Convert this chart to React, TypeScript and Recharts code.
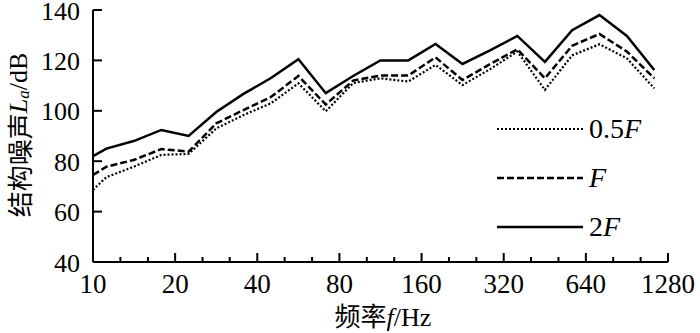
import { LineChart, Line, XAxis, YAxis, Legend } from "recharts";

// 1/3-octave positions (Hz); first point sits on the 10 Hz axis edge
const freqs = [10, 11.2, 14.1, 17.8, 22.4, 28.3, 35.6, 44.9, 56.6, 71.3, 89.8, 113, 143, 180, 226, 285, 359, 453, 570, 718, 905, 1140];
const halfF = [68.6, 73.7, 77.8, 82.5, 82.9, 93, 98.3, 103, 110.9, 99.8, 111, 112.9, 111.6, 118.2, 110.2, 116.5, 123.5, 108.3, 122, 126.4, 120.8, 108.9];
const oneF = [74.5, 77.8, 80.5, 84.8, 83.8, 95, 100.3, 105.5, 113.8, 102.5, 112, 114, 114, 121.2, 112.2, 118.5, 124.4, 112.9, 125.8, 130.5, 123.5, 112.9];
const twoF = [82, 85, 88, 92.4, 90, 99.5, 106.7, 113, 120.5, 107, 113.8, 120, 120, 126.5, 118.6, 124, 129.7, 119.4, 132, 138, 129.7, 116.2];

const xTicks = [10, 12.6, 15.9, 20, 25.2, 31.7, 40, 50.4, 63.5, 80, 100.8, 127, 160, 201.6, 254, 320, 403, 508, 640, 806, 1016, 1280];
const xLabels = [10, 20, 40, 80, 160, 320, 640, 1280];
const yTicks = [40, 60, 80, 100, 120, 140];
const seriesNames = ["0.5F", "F", "2F"];

const data = freqs.map((f, i) => ({ f, half: halfF[i], one: oneF[i], two: twoF[i] }));

const SERIF = '"Liberation Serif", "Times New Roman", serif';
const CJK = '"Noto Sans CJK SC", sans-serif';

const lineStyles = [
  { key: "half", dash: "2 2", width: 2.2 },
  { key: "one", dash: "7 3", width: 2.5 },
  { key: "two", dash: undefined, width: 2.5 },
];

function XTick(props: any) {
  const { x, y, payload } = props;
  const major = xLabels.includes(payload.value);
  return (
    <g>
      <line x1={x} x2={x} y1={y} y2={y - (major ? 9 : 5)} stroke="#000" strokeWidth={2} />
      {major && (
        <text x={x} y={y + 31} textAnchor="middle" fontFamily={SERIF} fontSize={27} fill="#000">
          {payload.value}
        </text>
      )}
    </g>
  );
}

function YTick(props: any) {
  const { x, y, payload } = props;
  return (
    <g>
      <line x1={x} x2={x + 9} y1={y} y2={y} stroke="#000" strokeWidth={2} />
      <text x={x - 13} y={y + 9.5} textAnchor="end" fontFamily={SERIF} fontSize={26} fill="#000">
        {payload.value}
      </text>
    </g>
  );
}

function XLabel() {
  return (
    <text x={383} y={326} textAnchor="middle" fontSize={26} fill="#000" fontFamily={SERIF}>
      <tspan fontFamily={CJK}>频率</tspan>
      <tspan fontStyle="italic">f</tspan>
      <tspan>/Hz</tspan>
    </text>
  );
}

function YLabel() {
  return (
    <text
      x={18}
      y={135}
      transform="rotate(-90 18 135)"
      textAnchor="middle"
      dominantBaseline="central"
      fontSize={26}
      fill="#000"
      fontFamily={SERIF}
    >
      <tspan fontFamily={CJK}>结构噪声</tspan>
      <tspan fontStyle="italic">L</tspan>
      <tspan fontStyle="italic" fontSize={17} dy={5}>a</tspan>
      <tspan dy={-5}>/dB</tspan>
    </text>
  );
}

function LegendBox() {
  return (
    <div style={{ display: "flex", flexDirection: "column" }}>
      {seriesNames.map((name, i) => (
        <div key={name} style={{ display: "flex", alignItems: "center", height: 49 }}>
          <svg width={86} height={6} style={{ display: "block" }}>
            <line
              x1={0}
              x2={86}
              y1={3}
              y2={3}
              stroke="#000"
              strokeWidth={lineStyles[i].width}
              strokeDasharray={lineStyles[i].dash}
            />
          </svg>
          <span style={{ fontFamily: SERIF, fontSize: 28, marginLeft: 6, lineHeight: 1 }}>
            {name.slice(0, -1)}
            <i>{name.slice(-1)}</i>
          </span>
        </div>
      ))}
    </div>
  );
}

export default function App() {
  return (
    <div style={{ width: 700, height: 333, background: "#fff" }}>
      <style>{"body{margin:0}"}</style>
      <LineChart width={700} height={333} data={data} margin={{ top: 10, right: 32, bottom: 0, left: 0 }}>
        <XAxis
          dataKey="f"
          type="number"
          scale="log"
          domain={[10, 1280]}
          ticks={xTicks}
          interval={0}
          height={71}
          tickSize={0}
          tickMargin={0}
          tickLine={false}
          tick={<XTick />}
          axisLine={{ stroke: "#000", strokeWidth: 2 }}
          label={<XLabel />}
        />
        <YAxis
          type="number"
          domain={[40, 140]}
          ticks={yTicks}
          interval={0}
          width={93}
          tickSize={0}
          tickMargin={0}
          tickLine={false}
          tick={<YTick />}
          axisLine={{ stroke: "#000", strokeWidth: 2 }}
          label={<YLabel />}
        />
        <Legend
          layout="vertical"
          align="center"
          verticalAlign="middle"
          content={<LegendBox />}
          wrapperStyle={{ left: 497, top: 104, width: 200 }}
        />
        {lineStyles.map((s, i) => (
          <Line
            key={s.key}
            dataKey={s.key}
            name={seriesNames[i]}
            type="linear"
            stroke="#000"
            strokeWidth={s.width}
            strokeDasharray={s.dash}
            dot={false}
            isAnimationActive={false}
          />
        ))}
      </LineChart>
    </div>
  );
}
